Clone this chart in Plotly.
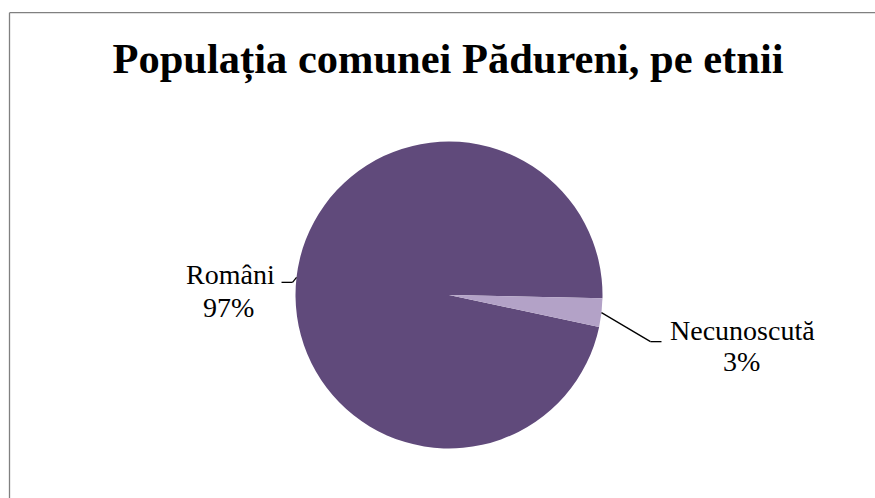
import math
import plotly.graph_objects as go

# ---- data ----
categories = ["Români", "Necunoscută"]
values = [97, 3]
pct_labels = ["97%", "3%"]
colors = ["#604A7B", "#B3A2C7"]
title_text = "Populația comunei Pădureni, pe etnii"

W, H = 875, 498
CX, CY, R = 449.0, 295.0, 153.5
ROT = 102.0
SERIF = "Liberation Serif, Times New Roman, serif"


def px(x):
    return x / W


def py(y):
    return 1 - y / H


fig = go.Figure(go.Pie(
    labels=categories,
    values=values,
    marker=dict(colors=colors, line=dict(width=0)),
    sort=False,
    direction="clockwise",
    rotation=ROT,
    textinfo="none",
    hoverinfo="label+percent",
    showlegend=False,
    domain=dict(x=[px(CX - R), px(CX + R)], y=[py(CY + R), py(CY - R)]),
))

# leader lines from slice mid-angles
total = sum(values)
start = ROT
mids = []
for v in values:
    span = 360.0 * v / total
    mids.append(start + span / 2)
    start += span

shapes = []
line_style = dict(color="black", width=1.3)
for i, a in enumerate(mids):
    rad = math.radians(a)
    sx = CX + R * math.sin(rad)
    sy = CY - R * math.cos(rad)
    if math.sin(rad) > 0:
        ex, ey = sx + 49, sy + 29
        hx = ex + 11
    else:
        ex, ey = sx - 4, sy + 5
        hx = ex - 11
    shapes.append(dict(type="line", xref="paper", yref="paper",
                       x0=px(sx), y0=py(sy), x1=px(ex), y1=py(ey), line=line_style))
    shapes.append(dict(type="line", xref="paper", yref="paper",
                       x0=px(ex), y0=py(ey), x1=px(hx), y1=py(ey), line=line_style))

# chart frame (left and top edges visible; the rest lies outside the view)
frame = dict(color="#808080", width=1.3)
shapes.append(dict(type="line", xref="paper", yref="paper",
                   x0=px(9.5), y0=py(12.7), x1=px(9.5), y1=py(H + 5), line=frame))
shapes.append(dict(type="line", xref="paper", yref="paper",
                   x0=px(9.5), y0=py(12.7), x1=px(W + 5), y1=py(12.7), line=frame))

# label positions (pixel centres)
label_pos = [((230, 274), (228.5, 307)), ((742.5, 330), (741, 361))]
annotations = []
for name, pct, (p1, p2) in zip(categories, pct_labels, label_pos):
    annotations.append(dict(text=name, x=px(p1[0]), y=py(p1[1]), xref="paper", yref="paper",
                            xanchor="center", yanchor="middle", showarrow=False,
                            font=dict(family=SERIF, size=28, color="black")))
    annotations.append(dict(text=pct, x=px(p2[0]), y=py(p2[1]), xref="paper", yref="paper",
                            xanchor="center", yanchor="middle", showarrow=False,
                            font=dict(family=SERIF, size=28, color="black")))

fig.update_layout(
    width=W, height=H,
    margin=dict(l=0, r=0, t=0, b=0),
    paper_bgcolor="white",
    plot_bgcolor="white",
    title=dict(text="<b>" + title_text + "</b>", x=px(448), y=py(58),
               xanchor="center", yanchor="middle", xref="paper", yref="paper",
               font=dict(family=SERIF, size=42.5, color="black")),
    shapes=shapes,
    annotations=annotations,
)

fig.write_html("out.html",
               config={"displayModeBar": False},
               post_script="document.body.style.margin='0';document.body.style.overflow='hidden';"
                           "document.documentElement.style.overflow='hidden';")
